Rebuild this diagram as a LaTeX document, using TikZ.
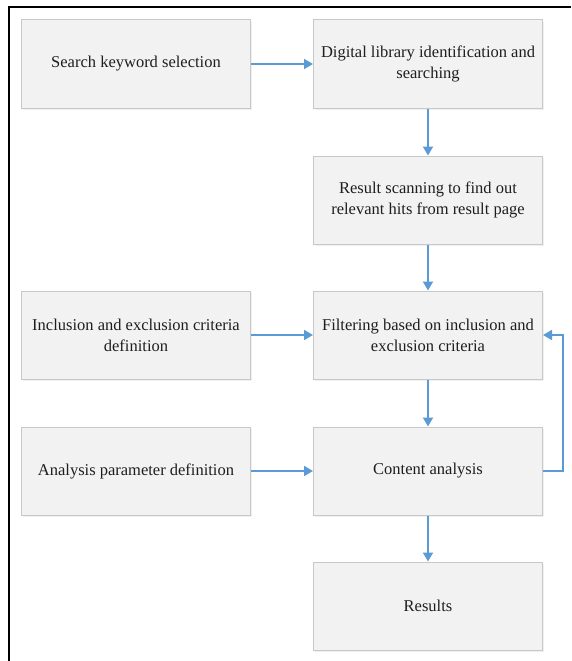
\documentclass[tikz,border=0pt]{standalone}
\usepackage{fontspec}
\setmainfont{Liberation Serif}
\usetikzlibrary{arrows.meta,shadows}
\definecolor{boxfill}{HTML}{F2F2F2}
\definecolor{boxline}{HTML}{C8C8C8}
\definecolor{arrowblue}{HTML}{5B9BD5}
\definecolor{txt}{HTML}{1E1E1E}
\tikzset{
  stepbox/.style={rectangle, draw=boxline, line width=1pt, fill=boxfill,
    minimum width=229pt, minimum height=88pt, align=center, text=txt,
    font=\fontsize{16.5pt}{21pt}\selectfont,
    drop shadow={opacity=0.12, shadow xshift=1pt, shadow yshift=-2pt}},
  flow/.style={draw=arrowblue, line width=1.8pt, -{Triangle[length=9pt,width=10pt]}},
}
\begin{document}
\begin{tikzpicture}[x=1pt,y=-1pt]
\useasboundingbox (0,0) rectangle (571,661);
\draw[line width=2.5pt, black] (9,661) -- (9,7) -- (571,7);
\node[stepbox] (s1) at (136,64) {Search keyword selection};
\node[stepbox] (d1) at (428,64) {Digital library identification and\\searching};
\node[stepbox] (r1) at (428,200) {Result scanning to find out\\relevant hits from result page};
\node[stepbox] (f1) at (428,335) {Filtering based on inclusion and\\exclusion criteria};
\node[stepbox] (i1) at (136,335) {Inclusion and exclusion criteria\\definition};
\node[stepbox] (c1) at (428,471) {Content analysis};
\node[stepbox] (a1) at (136,471) {Analysis parameter definition};
\node[stepbox] (res) at (428,606) {Results};
\draw[flow] (s1) -- (d1);
\draw[flow] (d1) -- (r1);
\draw[flow] (r1) -- (f1);
\draw[flow] (i1) -- (f1);
\draw[flow] (f1) -- (c1);
\draw[flow] (a1) -- (c1);
\draw[flow] (c1) -- (res);
\draw[flow] (c1.east) -- ++(20,0) |- (f1.east);
\end{tikzpicture}
\end{document}
